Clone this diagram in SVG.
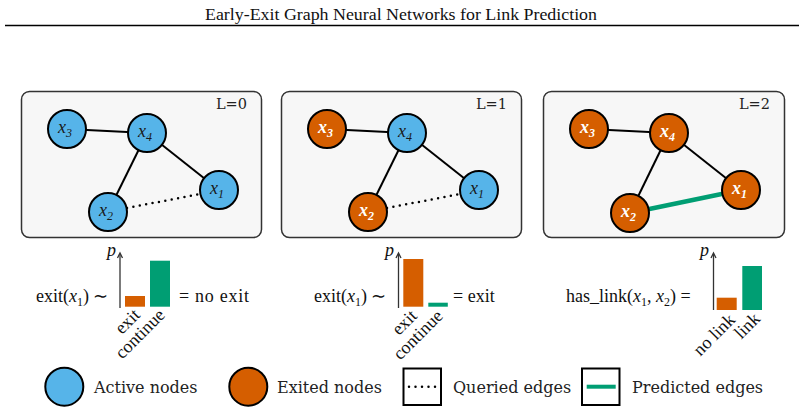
<svg xmlns="http://www.w3.org/2000/svg" width="804" height="414" viewBox="0 0 804 414">
<style>
.panel{fill:#f7f7f7;stroke:#333;stroke-width:1.5}
.act{fill:#56B4E9;stroke:#000;stroke-width:2}
.ext{fill:#D55E00;stroke:#000;stroke-width:2}
.edge{stroke:#000;stroke-width:2;fill:none}
.query{stroke:#000;stroke-width:2.5;stroke-dasharray:0 6.5;stroke-linecap:round;fill:none}
.pred{stroke:#009E73;stroke-width:4.5;fill:none}
.nl{font-family:"Liberation Serif",serif;font-style:italic;font-size:18px;fill:#1a1a1a}
.nlw{font-family:"Liberation Serif",serif;font-style:italic;font-weight:bold;font-size:18px;fill:#fff}
.sub{font-size:12px}
.lv{font-family:"DejaVu Serif",serif;font-size:14.5px;fill:#222}
.m{font-family:"Liberation Serif",serif;font-size:18px;fill:#111}
.rl{font-family:"Liberation Serif",serif;font-size:18px;fill:#111}
.leg{font-family:"DejaVu Serif",serif;font-size:16px;fill:#222}
.axis{stroke:#333;stroke-width:1.3;fill:none}
.box{fill:#fff;stroke:#000;stroke-width:2}
</style>

<text x="401" y="20" text-anchor="middle" font-family="Liberation Serif, serif" font-size="16" textLength="392" lengthAdjust="spacingAndGlyphs" fill="#111">Early-Exit Graph Neural Networks for Link Prediction</text>
<line x1="5" y1="25.5" x2="799" y2="25.5" stroke="#000" stroke-width="1.5"/>

<!-- Panel L=0 -->
<g id="panel0">
<rect class="panel" x="21.5" y="91.5" width="240" height="146" rx="8"/>
<text class="lv" x="247" y="109" text-anchor="end">L=0</text>
<g id="edges0">
<line class="edge" x1="67" y1="129" x2="147" y2="133"/>
<line class="edge" x1="147" y1="133" x2="108" y2="212"/>
<line class="edge" x1="147" y1="133" x2="219" y2="190"/>
<line class="query" x1="127" y1="208" x2="200" y2="194"/>
</g>
<g id="p0x3"><circle class="act" cx="67" cy="129" r="19"/><text class="nl" x="58" y="133">x<tspan class="sub" dy="4">3</tspan></text></g>
<g id="p0x4"><circle class="act" cx="147" cy="133" r="19"/><text class="nl" x="138" y="137">x<tspan class="sub" dy="4">4</tspan></text></g>
<g id="p0x1"><circle class="act" cx="219" cy="190" r="19"/><text class="nl" x="210" y="194">x<tspan class="sub" dy="4">1</tspan></text></g>
<g id="p0x2"><circle class="act" cx="108" cy="212" r="19"/><text class="nl" x="99" y="216">x<tspan class="sub" dy="4">2</tspan></text></g>
</g>

<!-- Panel L=1 -->
<g id="panel1">
<rect class="panel" x="281.5" y="91.5" width="240" height="146" rx="8"/>
<text class="lv" x="507" y="109" text-anchor="end">L=1</text>
<g id="edges1">
<line class="edge" x1="327" y1="129" x2="407" y2="133"/>
<line class="edge" x1="407" y1="133" x2="368" y2="212"/>
<line class="edge" x1="407" y1="133" x2="479" y2="190"/>
<line class="query" x1="387" y1="208" x2="460" y2="194"/>
</g>
<g id="p1x3"><circle class="ext" cx="327" cy="129" r="19"/><text class="nlw" x="318" y="133">x<tspan class="sub" dy="4">3</tspan></text></g>
<g id="p1x4"><circle class="act" cx="407" cy="133" r="19"/><text class="nl" x="398" y="137">x<tspan class="sub" dy="4">4</tspan></text></g>
<g id="p1x1"><circle class="act" cx="479" cy="190" r="19"/><text class="nl" x="470" y="194">x<tspan class="sub" dy="4">1</tspan></text></g>
<g id="p1x2"><circle class="ext" cx="368" cy="212" r="19"/><text class="nlw" x="359" y="216">x<tspan class="sub" dy="4">2</tspan></text></g>
</g>

<!-- Panel L=2 -->
<g id="panel2">
<rect class="panel" x="543.5" y="91.5" width="241" height="146" rx="8"/>
<text class="lv" x="770" y="109" text-anchor="end">L=2</text>
<g id="edges2">
<line class="edge" x1="589" y1="129" x2="669" y2="133"/>
<line class="edge" x1="669" y1="133" x2="630" y2="213"/>
<line class="edge" x1="669" y1="133" x2="741" y2="190"/>
<line class="pred" x1="630" y1="213" x2="741" y2="190"/>
</g>
<g id="p2x3"><circle class="ext" cx="589" cy="129" r="19"/><text class="nlw" x="580" y="133">x<tspan class="sub" dy="4">3</tspan></text></g>
<g id="p2x4"><circle class="ext" cx="669" cy="133" r="19"/><text class="nlw" x="660" y="137">x<tspan class="sub" dy="4">4</tspan></text></g>
<g id="p2x1"><circle class="ext" cx="741" cy="190" r="19"/><text class="nlw" x="732" y="194">x<tspan class="sub" dy="4">1</tspan></text></g>
<g id="p2x2"><circle class="ext" cx="630" cy="213" r="19"/><text class="nlw" x="621" y="217">x<tspan class="sub" dy="4">2</tspan></text></g>
</g>

<!-- Chart 1 -->
<g id="chart0">
<text class="m" x="36" y="302">exit(<tspan font-style="italic">x</tspan><tspan class="sub" dy="4">1</tspan><tspan dy="-4">) ∼</tspan></text>
<line class="axis" x1="120" y1="308" x2="120" y2="254"/>
<path class="axis" d="M117.5,258 L120,253 L122.5,258"/>
<text class="m" x="107" y="256" font-style="italic">p</text>
<rect x="125" y="296" width="20" height="10.7" fill="#D55E00"/>
<rect x="150" y="260.7" width="20" height="46" fill="#009E73"/>
<text class="m" x="179" y="302" textLength="70">= no exit</text>
<text class="rl" transform="translate(141,316) rotate(-45)" text-anchor="end">exit</text>
<text class="rl" transform="translate(166,316) rotate(-45)" text-anchor="end">continue</text>
</g>

<!-- Chart 2 -->
<g id="chart1">
<text class="m" x="314" y="302">exit(<tspan font-style="italic">x</tspan><tspan class="sub" dy="4">1</tspan><tspan dy="-4">) ∼</tspan></text>
<line class="axis" x1="398.5" y1="308" x2="398.5" y2="254"/>
<path class="axis" d="M396,258 L398.5,253 L401,258"/>
<text class="m" x="385" y="256" font-style="italic">p</text>
<rect x="403.3" y="259" width="20" height="47.7" fill="#D55E00"/>
<rect x="428.3" y="302.7" width="19.5" height="4" fill="#009E73"/>
<text class="m" x="453" y="302">= exit</text>
<text class="rl" transform="translate(418,317) rotate(-45)" text-anchor="end">exit</text>
<text class="rl" transform="translate(444,317) rotate(-45)" text-anchor="end">continue</text>
</g>

<!-- Chart 3 -->
<g id="chart2">
<text class="m" x="566" y="302">has_link(<tspan font-style="italic">x</tspan><tspan class="sub" dy="4">1</tspan><tspan dy="-4">, </tspan><tspan font-style="italic">x</tspan><tspan class="sub" dy="4">2</tspan><tspan dy="-4">) =</tspan></text>
<line class="axis" x1="713.5" y1="310" x2="713.5" y2="254"/>
<path class="axis" d="M711,258 L713.5,253 L716,258"/>
<text class="m" x="700" y="256" font-style="italic">p</text>
<rect x="716.7" y="297.7" width="20" height="12.3" fill="#D55E00"/>
<rect x="742.3" y="266" width="19.7" height="44" fill="#009E73"/>
<text class="rl" transform="translate(736,321) rotate(-45)" text-anchor="end">no link</text>
<text class="rl" transform="translate(761,320) rotate(-45)" text-anchor="end">link</text>
</g>

<!-- Legend -->
<g id="legend">
<g id="leg-active"><circle class="act" cx="64.3" cy="386.7" r="19"/><text class="leg" x="94" y="392.5">Active nodes</text></g>
<g id="leg-exited"><circle class="ext" cx="248.3" cy="386.7" r="19"/><text class="leg" x="277" y="392.5">Exited nodes</text></g>
<g id="leg-query"><rect class="box" x="403.5" y="368.5" width="37.5" height="36.5"/><line class="query" x1="409" y1="386.7" x2="436" y2="386.7"/><text class="leg" x="453" y="392.5">Queried edges</text></g>
<g id="leg-pred"><rect class="box" x="582" y="368.5" width="37.5" height="36.5"/><line class="pred" x1="586.7" y1="386.7" x2="615.7" y2="386.7" style="stroke-width:4"/><text class="leg" x="632" y="392.5">Predicted edges</text></g>
</g>
</svg>
